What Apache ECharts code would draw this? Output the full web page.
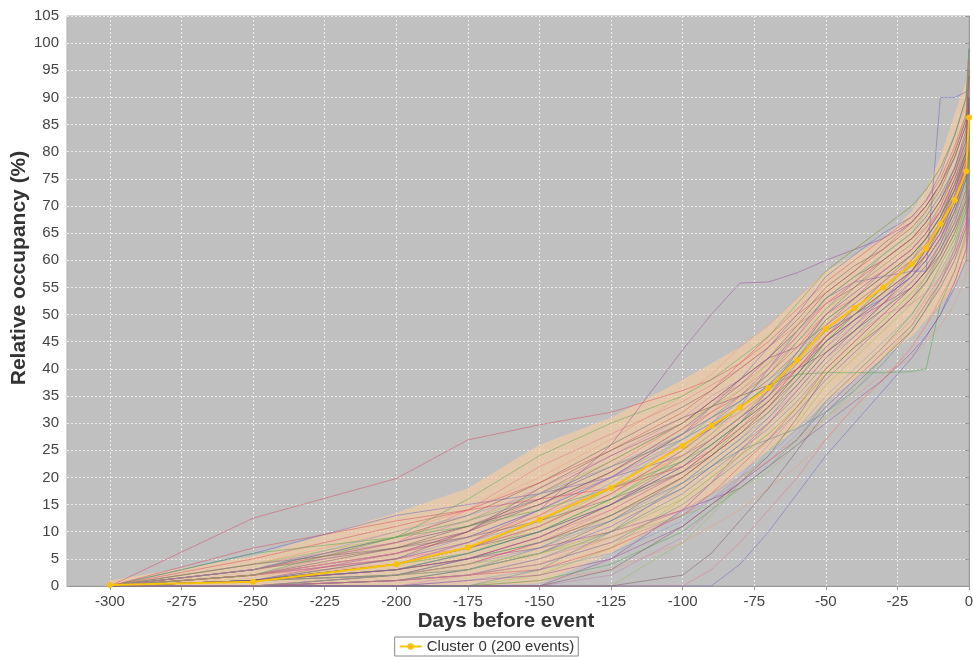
<!DOCTYPE html>
<html>
<head>
<meta charset="utf-8">
<script src="https://cdn.jsdelivr.net/npm/echarts@6/dist/echarts.min.js"></script>
<style>
html,body{margin:0;padding:0;background:#fff;}
#chart{width:973px;height:657px;}
</style>
</head>
<body>
<div id="chart"></div>
<script>
// Sample days (x values)
const days = [-300,-250,-200,-175,-150,-125,-100,-90,-80,-70,-60,-50,-40,-30,-20,-15,-10,-5,-1,0];
// X tick labels
const xTicks = [-300,-275,-250,-225,-200,-175,-150,-125,-100,-75,-50,-25,0];
// Cluster centre (mean curve)
const meanValues = [0.2,0.8,4.0,7.1,12.2,18.1,25.8,29.5,32.9,36.5,41.6,47.4,51.2,55.0,59.3,62.2,66.7,71.1,76.4,86.3];
// Spread band (upper / lower edge)
const bandUpper = [1.0,5.5,13.5,18,26,31,38,41,44,48,53,58,61,64,69,73,79,87,93,98];
const bandLower = [0,0,0,0,0.5,6,14,17,21,25,29,34,38,42,46,49,52,55,60,72];
// Individual event curves (representative subset)
const ev01 = [0,12.5,19.8,26.9,29.7,32,36,38,41,45,50,54,58,62,67,70,74,80,86,95];
const ev02 = [0,6,13,15,17,20,24,27,31,35,42,47,50,53,57,60,64,70,78,90];
const ev03 = [0,1,3,5,8,13,20,24,29,33,38,45,50,54,60,64,68,74,80,88];
const ev04 = [0,0,0,0,0,5,14,19,25,30,36,42,47,52,57,61,66,72,78,85];
const ev05 = [0,2,6,10,16,22,30,34,37,41,46,52,56,60,64,67,71,76,82,92];
const ev06 = [0,0,1,2,4,8,15,19,23,27,32,38,43,48,53,56,61,66,72,80];
const ev07 = [0,3,9,13,19,26,33,36,40,44,49,55,59,62,66,69,73,79,85,96];
const ev08 = [0,0,0,0,0,0,8,13,19,25,30,37,42,47,52,56,60,65,70,78];
const ev09 = [0,1,4,7,11,17,25,29,33,37,42,48,52,56,60,63,67,72,77,87];
const ev10 = [0,0,2,4,8,14,21,25,29,33,38,44,48,52,56,59,63,68,74,84];
const ev11 = [0,4,10,14,20,27,35,39,44,48,53,58,62,66,70,73,77,83,89,98];
const ev12 = [0,0,0,1,3,6,12,16,20,24,29,35,40,45,50,54,58,63,69,76];
const ev13 = [0,2,5,8,13,20,28,32,35,39,44,50,54,58,62,65,69,75,80,90];
const ev14 = [0,1,4,7,12,18,26,29,33,40,47,53,56,57,58,58,90,90,91,92];
const ev15 = [0,1,3,6,10,16,24,28,33,37,39,39.3,39.3,39.3,39.5,40,52,58,65,75];
const ev16 = [0,1,4,8,14,26,43.5,50,55.8,56,57.7,60,62,64,67,70,74,80,86,95];
const ev17 = [0,0,0,0,0,0,0,3,8,14,20,27,33,38,44,48,53,58,64,72];
const ev18 = [0,0,1,2,5,10,17,21,25,29,34,40,45,50,55,58,62,68,75,83];
const ev19 = [0,3,7,10,15,21,29,33,37,42,48,54,58,63,67,70,74,79,85,94];
const ev20 = [0,0,0,0,2,7,16,20,24,28,33,39,44,49,54,57,62,68,74,82];
const ev21 = [0,1,3,5,9,15,22,26,30,35,41,46,50,54,58,61,65,71,76,86];
const ev22 = [0,2,8,12,18,24,31,35,38,42,47,52,55,59,63,66,70,76,82,91];
const ev23 = [0,0,0,0,1,3,8,11,14,18,22,27,33,38,44,48,52,56,62,70];
const ev24 = [0,1,2,4,7,12,19,23,27,31,36,42,47,51,55,58,62,67,73,82];
const ev25 = [0,5,11,14,19,25,32,36,41,46,51,56,60,64,68,71,75,81,87,97];
const ev26 = [0,0,2,3,6,11,18,22,26,31,37,43,48,53,58,62,66,72,79,89];
const ev27 = [0,1,4,6,10,16,23,27,31,36,42,49,53,57,61,64,68,73,79,88];
const ev28 = [0,0,0,1,2,5,11,15,19,23,27,33,38,43,48,52,56,61,67,76];
const ev29 = [0,2,6,9,14,21,29,32,36,40,45,50,53,57,61,64,68,73,79,87];
const ev30 = [0,3,9,12,16,22,27,30,34,39,45,51,56,61,65,68,72,77,83,93];
const ev31 = [0,0,0,0,0,0,2,6,12,18,25,32,37,42,47,51,55,60,66,73];
const ev32 = [0,1,3,6,11,18,27,31,35,39,45,51,55,59,63,66,70,76,81,90];
const ev33 = [0,0,1,3,6,12,20,24,28,32,37,43,47,51,55,58,62,67,73,83];
const ev34 = [0,4,8,11,15,20,26,29,32,36,40,46,50,55,60,63,67,72,78,87];
const ev35 = [0,0,1,2,4,9,14,17,20,23,27,31,35,39,42,45,48,52,57,66];
const ev36 = [0,2,5,8,12,19,27,31,35,40,46,53,57,61,65,68,72,77,83,92];
const ev37 = [0,1,2,4,8,13,20,24,28,33,39,45,49,53,57,60,64,70,76,85];
const ev38 = [0,2,6,9,14,20,28,33,38,44,50,57,61,65,68,71,76,83,90,99];
const ev39 = [0,0,0,0,1,4,10,14,18,22,27,34,39,44,50,54,59,64,70,79];
const ev40 = [0,1,6,10,17,24,30,34,38,42,44,48,53,58,62,65,69,75,81,90];
const ev41 = [0,1,3,5,9,14,21,25,30,34,40,46,51,55,59,62,66,71,77,86];
const ev42 = [0,0,1,3,7,13,19,23,27,32,38,44,49,54,58,61,65,70,76,84];
const ev43 = [0,2,7,11,16,23,30,34,38,42,47,53,57,60,64,67,71,77,84,94];
const ev44 = [0,1,2,3,6,10,16,20,24,28,33,39,44,49,54,57,61,66,72,81];
const ev45 = [0,3,8,11,15,21,28,31,34,38,43,49,53,57,61,64,68,73,80,89];
const ev46 = [0,0,0,0,0,2,9,14,20,26,32,38,43,48,53,57,61,67,73,82];
const ev47 = [0,2,4,7,11,17,24,28,32,36,41,47,51,56,60,63,67,73,79,88];
const ev48 = [0,1,5,9,14,20,27,30,33,37,43,50,54,58,62,65,69,74,80,89];
const ev49 = [0,0,1,2,3,7,13,17,22,27,33,40,45,50,55,58,63,69,76,86];
const ev50 = [0,1,3,6,10,15,22,26,30,34,39,45,49,53,57,60,64,69,75,84];
const ev51 = [0,6,9,11,14,18,23,26,30,34,39,45,50,55,59,62,66,71,77,86];
const ev52 = [0,0,2,5,9,15,23,27,31,35,40,45,49,52,55,58,61,66,71,80];
const ev53 = [0,2,5,7,11,17,25,30,35,40,46,52,56,60,64,66,69,74,79,88];
const ev54 = [0,1,2,5,8,12,18,22,26,30,35,41,46,51,56,59,63,69,75,85];
const ev55 = [0,0,0,0,0,3,11,15,19,24,31,39,44,48,53,56,60,65,71,80];
const ev56 = [0,4,9,12,17,23,30,33,36,41,47,53,57,61,65,69,74,80,87,96];
const ev57 = [0,1,4,7,10,15,21,24,28,33,39,46,51,56,61,64,68,74,80,90];
const ev58 = [0,0,1,2,4,8,13,16,19,23,28,34,39,44,49,53,57,62,68,77];
const ev59 = [0,2,6,9,13,18,24,27,31,36,42,48,52,56,60,63,67,72,78,87];
const ev60 = [0,3,10,13,17,22,28,31,34,38,42,47,50,53,57,60,64,70,76,85];
const ev61 = [0,7,12,14,16,18,22,25,29,34,40,46,50,54,58,61,65,71,78,88];
const ev62 = [0,0,0,0,0,0,0,0,4,10,17,24,30,36,42,46,50,55,60,68];
const ev63 = [0,2,9,16,24,30,35,38,42,46,52,58,62,66,70,73,77,83,90,99];
const ev64 = [0,1,3,5,7,10,14,16,18,22,26,30,34,38,43,46,50,56,62,72];
const ev65 = [0,3,8,14,22,28,34,37,40,44,48,52,55,58,62,65,70,76,83,93];
const ev66 = [0,0,0,0,3,10,19,22,25,27,29,32,36,41,47,51,56,62,69,79];
const ev67 = [0,1,5,10,18,25,31,33,35,37,40,43,47,52,58,62,67,73,79,88];
const ev68 = [0,0,2,4,6,9,13,15,18,21,26,31,36,42,48,52,57,63,70,80];
const ev69 = [0,4,7,9,12,16,21,25,30,36,43,50,55,60,64,67,71,76,82,90];
const ev70 = [0,0,0,2,5,9,14,19,24,30,36,42,46,50,52,54,57,61,66,75];
const events = [ev01,ev02,ev03,ev04,ev05,ev06,ev07,ev08,ev09,ev10,ev11,ev12,ev13,ev14,ev15,ev16,ev17,ev18,ev19,ev20,
                ev21,ev22,ev23,ev24,ev25,ev26,ev27,ev28,ev29,ev30,ev31,ev32,ev33,ev34,ev35,ev36,ev37,ev38,ev39,ev40,
                ev41,ev42,ev43,ev44,ev45,ev46,ev47,ev48,ev49,ev50,ev51,ev52,ev53,ev54,ev55,ev56,ev57,ev58,ev59,ev60,
                ev61,ev62,ev63,ev64,ev65,ev66,ev67,ev68,ev69,ev70];
const seriesName = 'Cluster 0 (200 events)';

const palette = ['rgba(220,70,90,0.48)','rgba(90,90,200,0.45)','rgba(70,170,70,0.48)','rgba(150,60,150,0.45)',
                 'rgba(235,110,130,0.48)','rgba(80,130,150,0.45)','rgba(120,80,90,0.48)','rgba(150,190,90,0.52)',
                 'rgba(100,100,100,0.45)','rgba(200,120,180,0.45)','rgba(240,150,120,0.48)','rgba(120,150,210,0.45)'];

const series = [];
series.push({
  type:'custom', silent:true, z:1, clip:true,
  data: days.map((d,i)=>[d,bandUpper[i],bandLower[i]]),
  renderItem:function(params, api){
    if (params.dataIndex !== 0) return null;
    const pts = [];
    for (let i = 0; i < days.length; i++) pts.push(api.coord([days[i], bandUpper[i]]));
    for (let i = days.length - 1; i >= 0; i--) pts.push(api.coord([days[i], bandLower[i]]));
    return {type:'polygon', shape:{points:pts}, style:{fill:'rgba(250,205,160,0.62)'}};
  }
});
events.forEach((vals,k)=>{
  series.push({
    type:'line', data: days.map((d,i)=>[d,vals[i]]), symbol:'none', silent:true, z:2,
    lineStyle:{width:1, color: palette[k % palette.length]}
  });
});
series.push({
  name: seriesName, type:'line', data: days.map((d,i)=>[d,meanValues[i]]),
  symbol:'circle', symbolSize:6, z:5,
  itemStyle:{color:'#f7c10c'}, lineStyle:{width:2, color:'#f7c10c'}
});

const chart = echarts.init(document.getElementById('chart'));
chart.setOption({
  animation:false,
  backgroundColor:'#ffffff',
  textStyle:{fontFamily:'Liberation Sans, Arial, sans-serif'},
  grid:{left:67, right:4, top:16, bottom:71, outerBoundsMode:'none', containLabel:false,
        show:true, backgroundColor:'#c0c0c0', borderColor:'#b0b0b0', borderWidth:1},
  legend:{
    data:[seriesName], left:'center', top:637, itemWidth:22, itemHeight:8, itemGap:5,
    borderColor:'#888', borderWidth:1, borderRadius:0, padding:[2,4,2,4],
    textStyle:{fontSize:15, color:'#333'}
  },
  xAxis:{
    type:'value', min:-315, max:0,
    name:'Days before event', nameLocation:'middle', nameGap:25, nameMoveOverlap:false,
    nameTextStyle:{fontSize:20.5, fontWeight:'bold', color:'#333', padding:[0,24,0,0]},
    axisLine:{show:true, onZero:false, lineStyle:{color:'#999'}},
    axisTick:{show:true, customValues:xTicks, length:4, lineStyle:{color:'#999'}},
    axisLabel:{customValues:xTicks, fontSize:15, color:'#444', margin:8},
    splitLine:{show:true, lineStyle:{color:'#ececec', type:[2,2], width:1}}
  },
  yAxis:{
    type:'value', min:0, max:105, interval:5,
    name:'Relative occupancy (%)', nameLocation:'middle', nameGap:37, nameMoveOverlap:false,
    nameTextStyle:{fontSize:21, fontWeight:'bold', color:'#333', padding:[0,0,0,66]},
    axisLine:{show:true, lineStyle:{color:'#999'}},
    axisTick:{show:true, length:4, lineStyle:{color:'#999'}},
    axisLabel:{fontSize:15, color:'#444', margin:8},
    splitLine:{show:true, lineStyle:{color:'#ececec', type:[2,2], width:1}}
  },
  series: series
});
</script>
</body>
</html>
